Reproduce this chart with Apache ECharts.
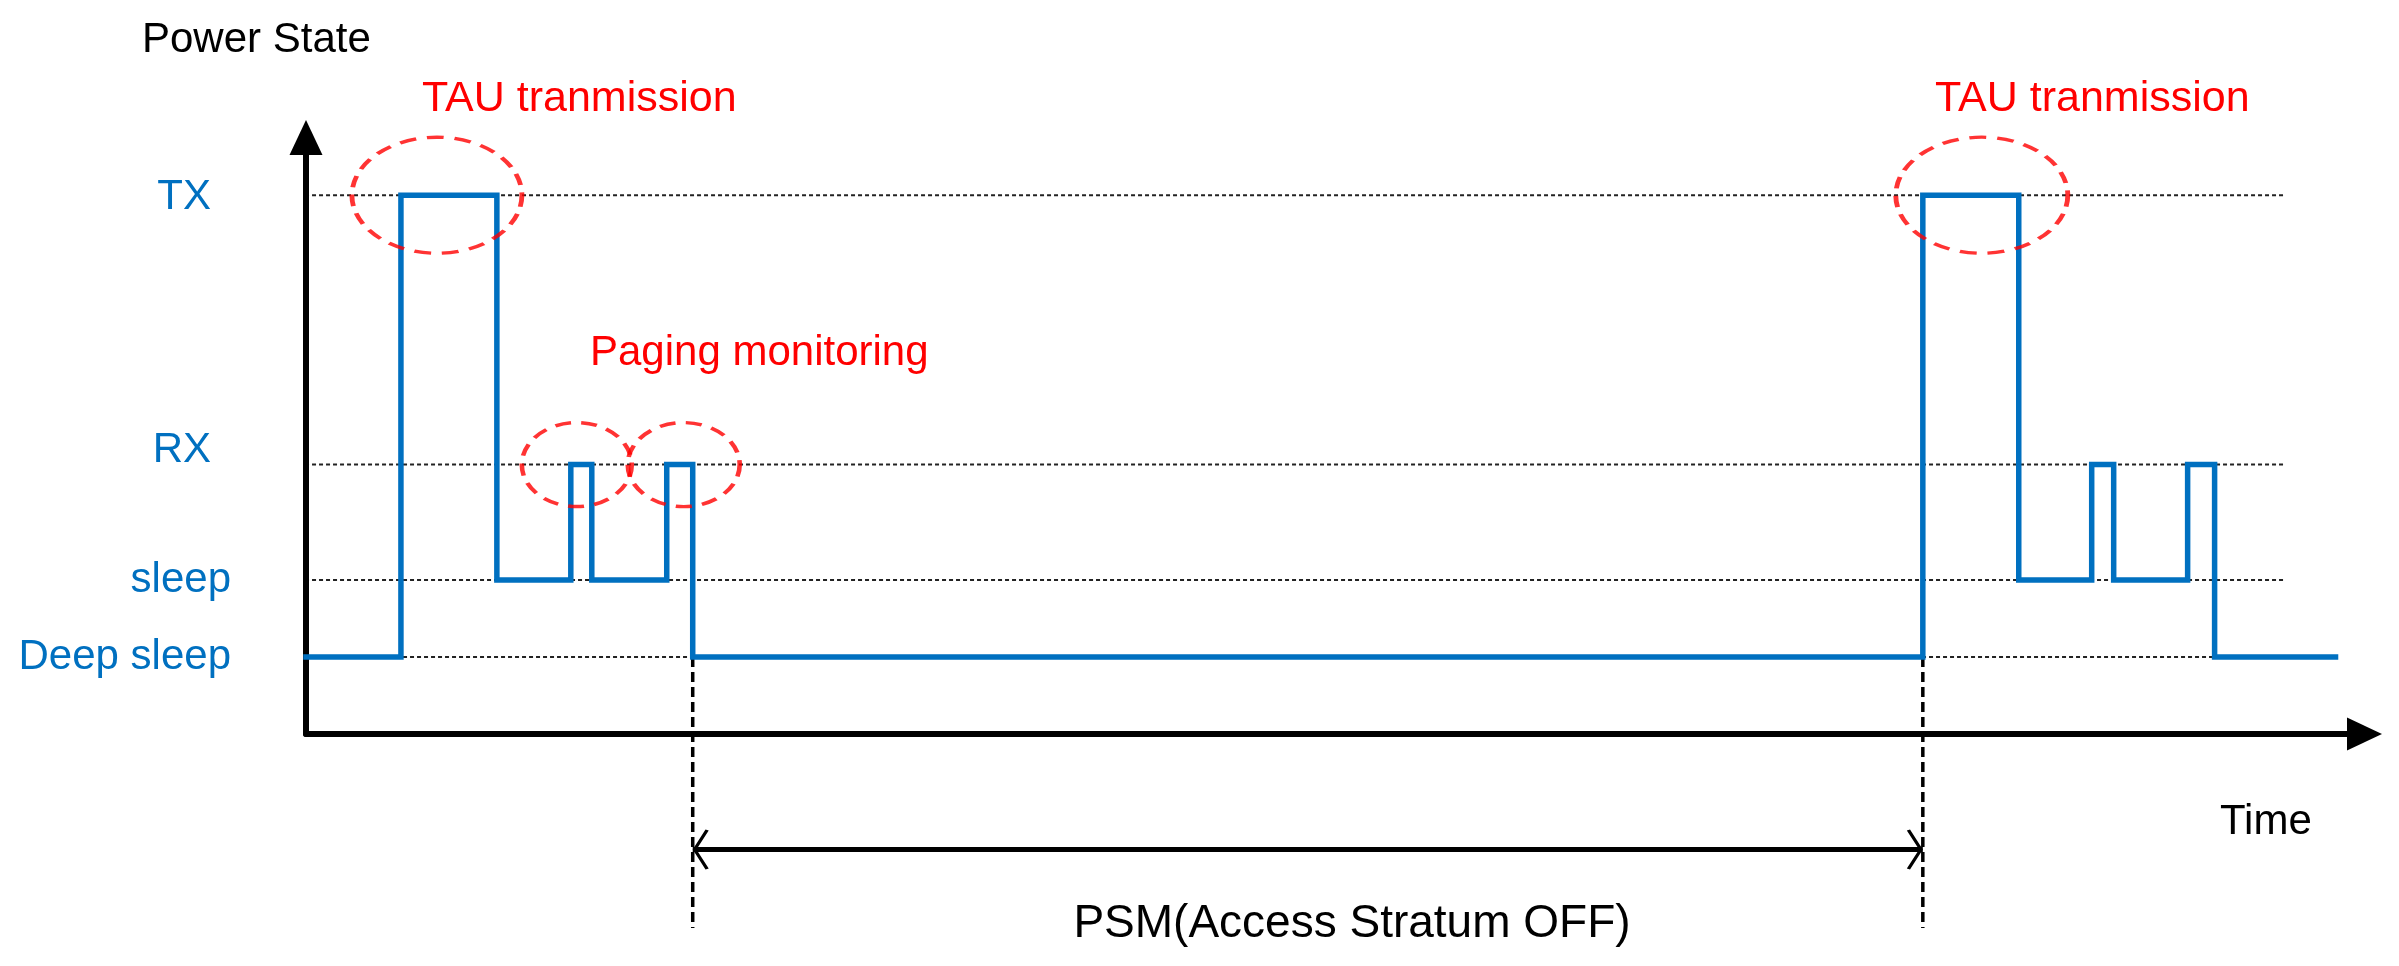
<!DOCTYPE html>
<html>
<head>
<meta charset="utf-8">
<title>Power State</title>
<script src="https://cdn.jsdelivr.net/npm/echarts@6/dist/echarts.min.js"></script>
<style>
    html, body { margin: 0; padding: 0; background: #fff; }
    #chart { width: 2399px; height: 966px; }
</style>
</head>
<body>
<div id="chart"></div>
<script>
// 功率状态 (y 轴)
var levelValues = [1, 2, 3.5, 7];
var levelNames = ['Deep sleep', 'sleep', 'RX', 'TX'];

// 阶梯线：每次切换的时间和进入的状态
var stepTimes  = [0, 4.75, 9.55, 13.25, 14.3, 18.05, 19.35, 80.9, 85.7, 89.35, 90.45, 94.15, 95.5, 101.55];
var stepLevels = [1, 7,    2,    3.5,   2,    3.5,   1,     7,    2,    3.5,   2,     3.5,   1,    1];

// 虚线参考线的起止时间
var refLineStart = -2.5;
var refLineEnd = 99.05;

// PSM 区间
var psmStart = 19.35;
var psmEnd = 80.9;
var psmArrowLevel = -1.5;
var psmDropLevel = -2.52;

// 红色圈：时间, 状态
var circleTimes  = [6.55, 13.55, 18.9, 83.85];
var circleLevels = [7, 3.5, 3.5, 7];

window.onload = function () {
    var blue = '#0070C0';
    var red = '#FF0000';
    var font = '"Liberation Sans", Arial, sans-serif';
    var circleSizes = [[170, 116], [110, 84], [112, 84], [172, 116]];

    var chart = echarts.init(document.getElementById('chart'));

    let series = [];

    // 虚线参考线
    levelValues.forEach(function (lv) {
        series.push({
            type: 'line',
            data: [[refLineStart, lv], [refLineEnd, lv]],
            symbol: 'none',
            clip: false,
            silent: true,
            z: 1,
            lineStyle: { color: '#222', width: 2, type: [4, 3] }
        });
    });

    // PSM 竖虚线
    [psmStart, psmEnd].forEach(function (t) {
        series.push({
            type: 'line',
            data: [[t, levelValues[0]], [t, psmDropLevel]],
            symbol: 'none',
            clip: false,
            silent: true,
            z: 2,
            lineStyle: { color: '#000', width: 3.5, type: [10, 5] }
        });
    });

    // 双向箭头
    series.push({
        type: 'line',
        data: [
            { value: [psmStart, psmArrowLevel], symbol: 'path://M12,0 L15,1 L3.5,20 L15,39 L12,40 L0,20 Z', symbolOffset: [8, 0] },
            { value: [psmEnd, psmArrowLevel], symbol: 'path://M3,0 L0,1 L11.5,20 L0,39 L3,40 L15,20 Z', symbolOffset: [-8, 0] }
        ],
        symbolSize: [16, 40],
        showSymbol: true,
        clip: false,
        silent: true,
        z: 2,
        itemStyle: { color: '#000', borderWidth: 0 },
        lineStyle: { color: '#000', width: 5 }
    });

    // 功率阶梯线
    series.push({
        type: 'line',
        step: 'end',
        data: stepTimes.map(function (t, i) { return [t, stepLevels[i]]; }),
        symbol: 'none',
        clip: false,
        z: 4,
        lineStyle: { color: blue, width: 5.5, join: 'miter', cap: 'square' }
    });

    // 红色虚线圈
    series.push({
        type: 'scatter',
        data: circleTimes.map(function (t, i) {
            return { value: [t, circleLevels[i]], symbolSize: circleSizes[i] };
        }),
        symbol: 'circle',
        silent: true,
        z: 5,
        itemStyle: { color: 'rgba(0,0,0,0)', borderColor: red, borderWidth: 4, borderType: [14, 9] }
    });

    let option = {
        animation: false,
        backgroundColor: '#fff',
        grid: { left: 306, right: 34.5, top: 137.5, bottom: 232, outerBoundsMode: 'none' },
        xAxis: {
            type: 'value',
            min: 0,
            max: 103,
            z: 3,
            axisLine: {
                show: true,
                symbol: ['none', 'triangle'],
                symbolSize: [33, 35],
                lineStyle: { color: '#000', width: 6 }
            },
            axisTick: { show: false },
            axisLabel: { show: false },
            splitLine: { show: false }
        },
        yAxis: {
            type: 'value',
            min: 0,
            max: 7.75,
            z: 3,
            axisLine: {
                show: true,
                symbol: ['none', 'triangle'],
                symbolSize: [33, 35],
                lineStyle: { color: '#000', width: 6 }
            },
            axisTick: { show: false },
            splitLine: { show: false },
            axisLabel: {
                customValues: levelValues,
                margin: 75,
                formatter: function (v) {
                    var i = levelValues.indexOf(v);
                    var key = i === 3 ? 'tx' : (i === 2 ? 'rx' : 'low');
                    return '{' + key + '|' + levelNames[i] + '}';
                },
                rich: {
                    low: { fontSize: 42, color: blue, fontFamily: font },
                    rx: { fontSize: 42, color: blue, fontFamily: font, padding: [0, 20, 28, 0] },
                    tx: { fontSize: 42, color: blue, fontFamily: font, padding: [4, 20, 0, 0] }
                }
            }
        },
        graphic: [
            { type: 'text', x: 142, y: 40, style: { text: 'Power State', fill: '#000', fontSize: 42, fontFamily: font, verticalAlign: 'middle' } },
            { type: 'text', x: 422, y: 99, style: { text: 'TAU tranmission', fill: red, fontSize: 43, fontFamily: font, verticalAlign: 'middle' } },
            { type: 'text', x: 1935, y: 99, style: { text: 'TAU tranmission', fill: red, fontSize: 43, fontFamily: font, verticalAlign: 'middle' } },
            { type: 'text', x: 590, y: 353, style: { text: 'Paging monitoring', fill: red, fontSize: 42, fontFamily: font, verticalAlign: 'middle' } },
            { type: 'text', x: 2220, y: 822, style: { text: 'Time', fill: '#000', fontSize: 42, fontFamily: font, verticalAlign: 'middle' } },
            { type: 'text', x: 1352, y: 924, style: { text: 'PSM(Access Stratum OFF)', fill: '#000', fontSize: 46, fontFamily: font, align: 'center', verticalAlign: 'middle' } }
        ],
        series: series
    };

    chart.setOption(option);
};
</script>
</body>
</html>
